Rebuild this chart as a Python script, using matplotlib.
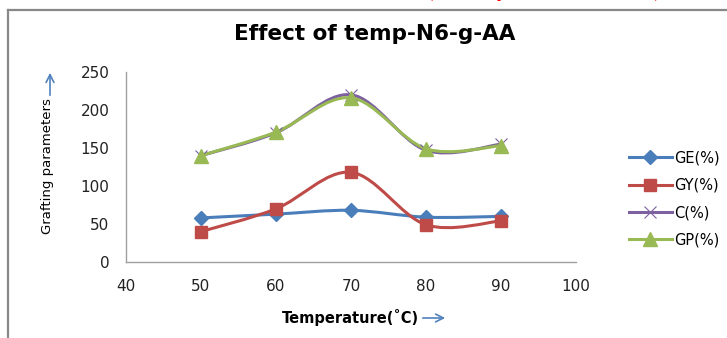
import numpy as np
import matplotlib
matplotlib.use('Agg')
import matplotlib.pyplot as plt
from matplotlib.path import Path
from matplotlib.patches import PathPatch
from matplotlib.lines import Line2D

matplotlib.rcParams.update({'font.family': 'DejaVu Sans'})

temps = [50, 60, 70, 80, 90]
ge = [58, 63, 68, 59, 60]
gy = [40, 70, 118, 49, 54]
c = [140, 170, 220, 147, 155]
gp = [140, 171, 216, 149, 153]

series = [
    ('GE(%)', ge, '#4A7EBB', 'D', 7.5, 1.0),
    ('GY(%)', gy, '#BE4B48', 's', 9, 1.0),
    ('C(%)', c, '#7D60A0', 'x', 8, 0.8),
    ('GP(%)', gp, '#98B954', '^', 9.5, 1.0),
]


def smooth_path(x, y):
    # Excel-like smoothed line: bezier through the points
    pts = np.column_stack([x, y]).astype(float)
    verts = [pts[0]]
    codes = [Path.MOVETO]
    n = len(pts)
    for i in range(n - 1):
        p0 = pts[i - 1] if i > 0 else pts[i]
        p1 = pts[i]
        p2 = pts[i + 1]
        p3 = pts[i + 2] if i + 2 < n else pts[i + 1]
        c1 = p1 + (p2 - p0) / 6.0
        c2 = p2 - (p3 - p1) / 6.0
        verts += [c1, c2, p2]
        codes += [Path.CURVE4] * 3
    return Path(verts, codes)


fig = plt.figure(figsize=(7.27, 3.38), dpi=100)
ax = fig.add_axes([126 / 727, 76 / 338, 450 / 727, 190 / 338])

handles = []
for name, vals, col, mk, ms, mew in series:
    ax.add_patch(PathPatch(smooth_path(temps, vals), facecolor='none',
                           edgecolor=col, lw=2.2, capstyle='round'))
    ax.plot(temps, vals, ls='none', marker=mk, color=col, ms=ms, mew=mew)
    handles.append(Line2D([], [], color=col, lw=2.2, marker=mk, ms=ms, mew=mew, label=name))

ax.set_xlim(40, 100)
ax.set_ylim(0, 250)
ax.set_xticks(range(40, 101, 10))
ax.set_yticks(range(0, 251, 50))
ax.tick_params(length=0, labelsize=11, colors='#222222')
ax.tick_params(axis='y', pad=12)
ax.tick_params(axis='x', pad=12)
for s in ['top', 'right']:
    ax.spines[s].set_visible(False)
for s in ['left', 'bottom']:
    ax.spines[s].set_color('#A0A0A0')
    ax.spines[s].set_linewidth(1.0)

fig.legend(handles=handles, loc='center left', bbox_to_anchor=(622 / 727, (338 - 199) / 338),
           frameon=False, fontsize=10.5, handlelength=2.9, handletextpad=0.2,
           labelspacing=0.85, borderpad=0)

fig.text(375 / 727, (338 - 34) / 338, 'Effect of temp-N6-g-AA', ha='center', va='center',
         fontsize=15.5, fontweight='bold')
fig.text(47 / 727, (338 - 166) / 338, 'Grafting parameters', rotation=90, ha='center',
         va='center', fontsize=9.5)
fig.text(350 / 727, (338 - 318) / 338, 'Temperature(˚C)', ha='center', va='center',
         fontsize=10.5, fontweight='bold')

arrow = dict(arrowstyle='->', color='#4F81BD', lw=1.2, mutation_scale=14)
ax.annotate('', xy=(50, 268), xytext=(50, 240), xycoords='figure pixels',
            textcoords='figure pixels', arrowprops=arrow)
ax.annotate('', xy=(448, 20), xytext=(420, 20), xycoords='figure pixels',
            textcoords='figure pixels', arrowprops=arrow)

# red caption cut by the top of the picture
fig.text(427 / 727, 1.0 + 4 / 338, '(Role of the heat on AA)', ha='left', va='baseline',
         fontsize=17, fontweight='bold', style='italic', color='red', family='Liberation Serif')

# page frame
fig.add_artist(Line2D([8 / 727, 8 / 727], [0, (338 - 10) / 338], color='#888888', lw=1.6))
fig.add_artist(Line2D([8 / 727, 1], [(338 - 10) / 338, (338 - 10) / 338], color='#888888', lw=1.6))

fig.savefig('out.png', dpi=100)
